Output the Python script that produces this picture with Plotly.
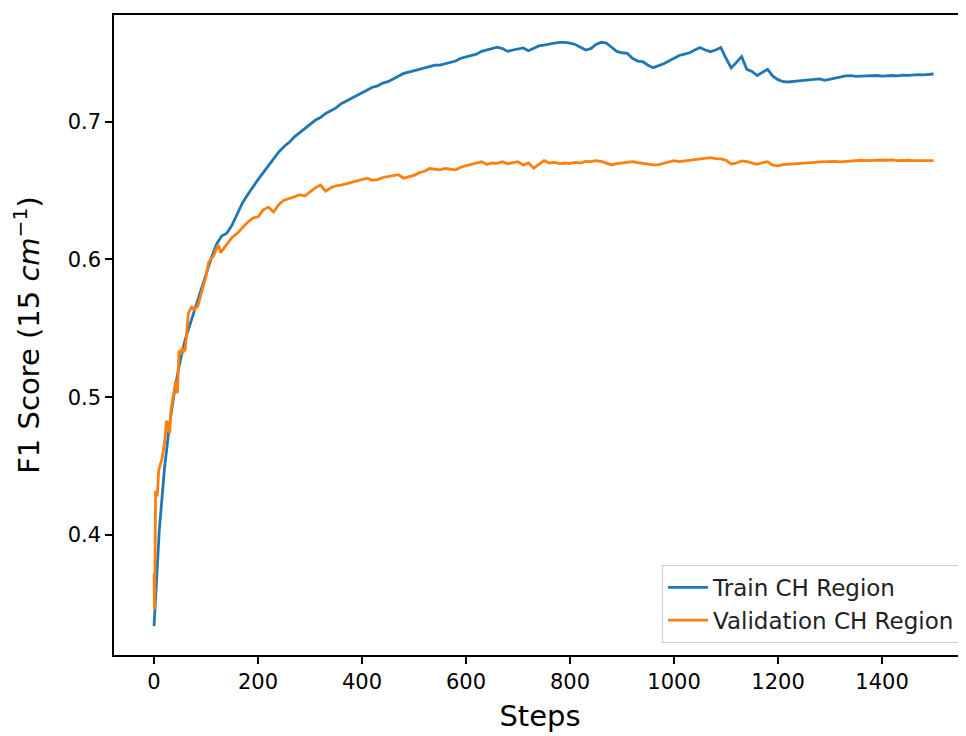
import plotly.graph_objects as go

# ---- data ----
train_steps = [0, 5, 10, 20, 30, 40, 50, 60, 70, 80, 90, 100, 110, 120, 130, 140,
               150, 160, 170, 180, 190, 200, 210, 220, 230, 240, 250, 260, 270, 280, 290,
               300, 310, 320, 330, 340, 350, 360, 370, 380, 390, 400, 410, 420, 430, 440,
               450, 460, 470, 480, 490, 500, 510, 520, 530, 540, 550, 560, 570, 580, 590,
               600, 610, 620, 630, 640, 650, 660, 670, 680, 690, 700, 710, 720, 730, 740,
               750, 760, 770, 780, 790, 800, 810, 820, 830, 840, 850, 860, 870, 880, 890,
               900, 910, 920, 930, 940, 950, 960, 970, 980, 990, 1000, 1010, 1020, 1030, 1040,
               1050, 1060, 1070, 1080, 1090, 1100, 1110, 1120, 1130, 1140, 1150, 1160, 1170, 1180, 1190,
               1200, 1210, 1220, 1230, 1240, 1250, 1260, 1270, 1280, 1290, 1300, 1310, 1320, 1330, 1340,
               1350, 1360, 1370, 1380, 1390, 1400, 1410, 1420, 1430, 1440, 1450, 1460, 1470, 1480, 1490, 1499]
train_f1 = [0.334, 0.372, 0.403, 0.448, 0.481, 0.506, 0.526, 0.542, 0.554, 0.566, 0.578, 0.589, 0.601, 0.611, 0.617, 0.619,
            0.625, 0.633, 0.641, 0.647, 0.653, 0.658, 0.663, 0.668, 0.673, 0.678, 0.682, 0.685, 0.689, 0.692, 0.695,
            0.698, 0.701, 0.703, 0.706, 0.708, 0.710, 0.713, 0.715, 0.717, 0.719, 0.721, 0.723, 0.725, 0.726, 0.728,
            0.729, 0.731, 0.733, 0.735, 0.736, 0.737, 0.738, 0.739, 0.740, 0.741, 0.741, 0.742, 0.743, 0.744, 0.746,
            0.747, 0.748, 0.749, 0.751, 0.752, 0.753, 0.754, 0.753, 0.751, 0.752, 0.753, 0.7535, 0.7515, 0.753, 0.755,
            0.7555, 0.7565, 0.757, 0.7576, 0.7576, 0.757, 0.756, 0.754, 0.752, 0.753, 0.756, 0.7576, 0.757, 0.754, 0.751,
            0.750, 0.7495, 0.746, 0.744, 0.7435, 0.741, 0.7392, 0.7405, 0.742, 0.744, 0.746, 0.748, 0.749, 0.750, 0.752,
            0.7538, 0.752, 0.7508, 0.752, 0.7538, 0.746, 0.739, 0.743, 0.7472, 0.738, 0.7365, 0.7335, 0.736, 0.738, 0.733,
            0.7305, 0.729, 0.7288, 0.7292, 0.7295, 0.7298, 0.7302, 0.7308, 0.731, 0.730, 0.7308, 0.7318, 0.7322, 0.7332, 0.7334,
            0.7328, 0.733, 0.7332, 0.733, 0.7335, 0.733, 0.7333, 0.7335, 0.7332, 0.7338, 0.7336, 0.734, 0.7341, 0.734, 0.7345, 0.7346]

val_steps = [0, 1, 3, 6, 9, 12, 15, 18, 21, 24, 27, 30, 33, 36, 39, 42, 45, 48, 51, 54, 57, 60, 63, 66,
             70, 73, 77, 80, 84, 88, 92, 96, 100, 105, 110, 115, 120, 124, 128, 134, 140,
             150, 160, 170, 180, 190, 200, 210, 220, 230, 240, 250, 260, 270, 280, 290,
             300, 310, 320, 330, 340, 350, 360, 370, 380, 390, 400, 410, 420, 430, 440,
             450, 460, 470, 480, 490, 500, 510, 520, 530, 540, 550, 560, 570, 580, 590,
             600, 610, 620, 630, 640, 650, 660, 670, 680, 690, 700, 710, 720, 730, 740,
             750, 760, 770, 780, 790, 800, 810, 820, 830, 840, 850, 860, 870, 880, 890,
             900, 910, 920, 930, 940, 950, 960, 970, 980, 990, 1000, 1010, 1020, 1030, 1040,
             1050, 1060, 1070, 1080, 1090, 1100, 1110, 1120, 1130, 1140, 1150, 1160, 1170, 1180, 1190,
             1200, 1210, 1220, 1230, 1240, 1250, 1260, 1270, 1280, 1290, 1300, 1310, 1320, 1330, 1340,
             1350, 1360, 1370, 1380, 1390, 1400, 1410, 1420, 1430, 1440, 1450, 1460, 1470, 1480, 1490, 1499]
val_f1 = [0.372, 0.346, 0.432, 0.428, 0.447, 0.451, 0.455, 0.462, 0.470, 0.483, 0.479, 0.474, 0.492, 0.499, 0.507, 0.512, 0.503, 0.534, 0.531, 0.536, 0.533, 0.535, 0.548, 0.561,
          0.564, 0.566, 0.563, 0.565, 0.566, 0.572, 0.578, 0.584, 0.588, 0.598, 0.601, 0.603, 0.608, 0.6105, 0.605, 0.608, 0.611,
          0.616, 0.619, 0.623, 0.627, 0.630, 0.631, 0.636, 0.638, 0.6345, 0.640, 0.643, 0.644, 0.6455, 0.647, 0.646,
          0.649, 0.652, 0.654, 0.6495, 0.652, 0.6535, 0.654, 0.655, 0.6565, 0.657, 0.658, 0.659, 0.6575, 0.658, 0.6595,
          0.660, 0.661, 0.6615, 0.659, 0.660, 0.661, 0.663, 0.664, 0.666, 0.6655, 0.665, 0.666, 0.6655, 0.665, 0.667,
          0.668, 0.6695, 0.670, 0.671, 0.669, 0.670, 0.6698, 0.671, 0.6695, 0.670, 0.671, 0.6685, 0.670, 0.6662, 0.669,
          0.6717, 0.670, 0.6705, 0.6695, 0.670, 0.6698, 0.6705, 0.670, 0.6712, 0.671, 0.6717, 0.6712, 0.670, 0.6686, 0.6695,
          0.670, 0.6705, 0.671, 0.6702, 0.6695, 0.669, 0.6686, 0.6688, 0.6698, 0.671, 0.6717, 0.671, 0.6715, 0.672, 0.6725,
          0.673, 0.6735, 0.6739, 0.6732, 0.673, 0.672, 0.6693, 0.670, 0.6715, 0.671, 0.6698, 0.669, 0.6702, 0.671, 0.6685,
          0.668, 0.6688, 0.669, 0.6695, 0.6698, 0.670, 0.6702, 0.6705, 0.6708, 0.671, 0.671, 0.6712, 0.6708, 0.6712, 0.6715,
          0.6718, 0.672, 0.6718, 0.672, 0.6722, 0.6722, 0.672, 0.6722, 0.6718, 0.672, 0.672, 0.6718, 0.672, 0.6718, 0.6717, 0.6717]

x_ticks = [0, 200, 400, 600, 800, 1000, 1200, 1400]
y_ticks = [0.4, 0.5, 0.6, 0.7]

FONT = "DejaVu Sans"

fig = go.Figure()
fig.add_trace(go.Scatter(x=train_steps, y=train_f1, mode="lines", name="Train CH Region",
                         legendgroup="a", line=dict(color="#1f77b4", width=2.8)))
fig.add_trace(go.Scatter(x=val_steps, y=val_f1, mode="lines", name="Validation CH Region",
                         legendgroup="b", line=dict(color="#ff7f0e", width=2.8)))

fig.update_layout(
    width=958, height=728,
    margin=dict(l=106, r=0, t=7, b=81),
    paper_bgcolor="white", plot_bgcolor="white",
    font=dict(family=FONT, color="black", size=21),
    showlegend=True,
    legend=dict(x=0.993, y=0.019, xanchor="right", yanchor="bottom",
                bgcolor="rgba(255,255,255,0.8)", bordercolor="#cccccc", borderwidth=1,
                font=dict(family=FONT, size=23, color="#222222"),
                tracegroupgap=5, traceorder="normal", itemwidth=40),
    xaxis=dict(range=[-77, 1561.5], tickvals=x_ticks, ticks="outside", ticklen=7, tickwidth=1.5,
               tickcolor="black", showline=True, linecolor="black", linewidth=1.5, mirror=True,
               showgrid=False, zeroline=False, tickfont=dict(size=21),
               title=dict(text="Steps", font=dict(size=29), standoff=13)),
    yaxis=dict(range=[0.313, 0.7774], tickvals=y_ticks, ticks="outside", ticklen=7, tickwidth=1.5,
               tickcolor="black", showline=True, linecolor="black", linewidth=1.5, mirror=False,
               showgrid=False, zeroline=False, tickfont=dict(size=21),
               title=dict(text="F1 Score (15 <i>cm</i><sup>−1</sup>)", font=dict(size=29), standoff=20)),
)

fig.write_html("out.html")
